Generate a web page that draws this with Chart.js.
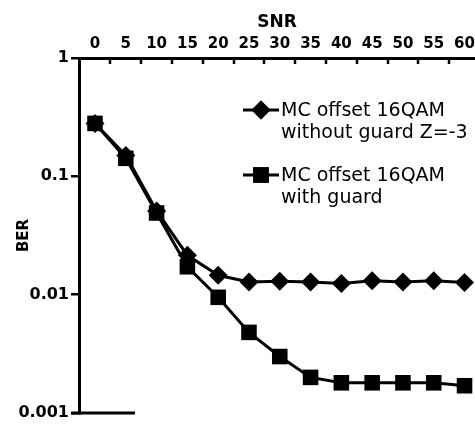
<!DOCTYPE html>
<html>
<head>
<meta charset="utf-8">
<script src="https://cdn.jsdelivr.net/npm/chart.js@4/dist/chart.umd.min.js"></script>
<style>
  html, body { margin: 0; padding: 0; background: #fff; }
  #wrap { width: 475px; height: 425px; }
</style>
</head>
<body>
<div id="wrap"><canvas id="c" width="475" height="425"></canvas></div>
<script>
// SNR sweep (dB) and measured bit error rates
const snr = [0, 5, 10, 15, 20, 25, 30, 35, 40, 45, 50, 55, 60];
const berNoGuard = [0.28, 0.15, 0.051, 0.0215, 0.0146, 0.0128, 0.013, 0.0128, 0.0124, 0.0131, 0.0128, 0.0131, 0.0127];
const berGuard = [0.28, 0.142, 0.049, 0.0172, 0.0095, 0.0048, 0.003, 0.002, 0.0018, 0.0018, 0.0018, 0.0018, 0.0017];
const xTickValues = [0, 5, 10, 15, 20, 25, 30, 35, 40, 45, 50, 55, 60];
// small marks on the SNR axis sit between the labelled values
const xTickMarks = [2.5, 7.5, 12.5, 17.5, 22.5, 27.5, 32.5, 37.5, 42.5, 47.5, 52.5, 57.5];
const yTickValues = [1, 0.1, 0.01, 0.001];
const legendLines = [
  ['MC offset 16QAM', 'without guard Z=-3'],
  ['MC offset 16QAM', 'with guard']
];

const FAMILY = '"DejaVu Sans", Verdana, sans-serif';

// Tick marks on the top axis hang down into the plot
const innerTicks = {
  id: 'innerTicks',
  afterDraw(chart) {
    const { ctx, chartArea } = chart;
    const xs = chart.scales.x;
    ctx.save();
    ctx.strokeStyle = '#000';
    ctx.lineWidth = 2.5;
    xTickMarks.forEach(v => {
      const px = Math.round(xs.getPixelForValue(v));
      ctx.beginPath();
      ctx.moveTo(px, chartArea.top);
      ctx.lineTo(px, chartArea.top + 6);
      ctx.stroke();
    });
    // short stub along the bottom of the value axis
    ctx.lineWidth = 3;
    ctx.beginPath();
    ctx.moveTo(chartArea.left - 8, chartArea.bottom);
    ctx.lineTo(xs.getPixelForValue(6.5), chartArea.bottom);
    ctx.stroke();
    ctx.restore();
  }
};

// Legend drawn inside the plot, two lines of text per series
const insetLegend = {
  id: 'insetLegend',
  afterDraw(chart) {
    const { ctx } = chart;
    const items = [
      { y: 110, ds: chart.data.datasets[0] },
      { y: 175, ds: chart.data.datasets[1] }
    ];
    ctx.save();
    items.forEach((it, i) => {
      const ds = it.ds;
      ctx.strokeStyle = '#000';
      ctx.lineWidth = 3;
      ctx.beginPath();
      ctx.moveTo(243, it.y);
      ctx.lineTo(279, it.y);
      ctx.stroke();
      ctx.fillStyle = '#000';
      Chart.helpers.drawPoint(ctx, {
        pointStyle: ds.pointStyle,
        radius: ds.pointRadius,
        rotation: 0,
        borderWidth: 0
      }, 261, it.y);
      ctx.fill();
      ctx.font = '19px ' + FAMILY;
      ctx.textBaseline = 'middle';
      ctx.textAlign = 'left';
      legendLines[i].forEach((t, k) => ctx.fillText(t, 281, it.y + 1 + k * 22));
    });
    ctx.restore();
  }
};

new Chart(document.getElementById('c'), {
  type: 'line',
  data: {
    datasets: [
      {
        label: legendLines[0].join(' '),
        data: snr.map((s, i) => ({ x: s, y: berNoGuard[i] })),
        borderColor: '#000',
        backgroundColor: '#000',
        borderWidth: 3,
        pointStyle: 'rectRot',
        pointRadius: 9.5,
        pointBorderWidth: 0,
        tension: 0
      },
      {
        label: legendLines[1].join(' '),
        data: snr.map((s, i) => ({ x: s, y: berGuard[i] })),
        borderColor: '#000',
        backgroundColor: '#000',
        borderWidth: 3,
        pointStyle: 'rect',
        pointRadius: 11,
        pointBorderWidth: 0,
        tension: 0
      }
    ]
  },
  options: {
    responsive: false,
    animation: false,
    devicePixelRatio: 1,
    layout: { autoPadding: false, padding: { left: 0, right: 0, top: 0, bottom: 12 } },
    plugins: {
      legend: { display: false },
      tooltip: { enabled: false }
    },
    scales: {
      x: {
        type: 'linear',
        position: 'top',
        min: -2.6,
        max: 61.7,
        afterBuildTicks(axis) {
          axis.ticks = xTickValues.map(v => ({ value: v }));
        },
        afterFit(axis) {
          axis.height = 58;
          axis.paddingLeft = 0;
          axis.paddingRight = 0;
        },
        grid: { display: false, drawTicks: false },
        border: { display: true, color: '#000', width: 3 },
        ticks: {
          color: '#000',
          font: { family: FAMILY, size: 15, weight: 'bold' },
          padding: 5,
          maxRotation: 0,
          autoSkip: false,
          callback: v => String(v)
        },
        title: {
          display: true,
          text: 'SNR',
          color: '#000',
          font: { family: FAMILY, size: 17, weight: 'bold' },
          padding: { top: 12, bottom: 0 }
        }
      },
      y: {
        type: 'logarithmic',
        min: 0.001,
        max: 1,
        afterBuildTicks(axis) {
          axis.ticks = yTickValues.map(v => ({ value: v }));
        },
        afterFit(axis) {
          axis.width = 79;
        },
        grid: { display: true, drawOnChartArea: false, drawTicks: true, tickLength: 8, color: '#000', lineWidth: 2.5 },
        border: { display: true, color: '#000', width: 3 },
        ticks: {
          color: '#000',
          font: { family: FAMILY, size: 16, weight: 'bold' },
          padding: 2,
          autoSkip: false,
          callback: v => String(v)
        },
        title: {
          display: true,
          text: 'BER',
          color: '#000',
          font: { family: FAMILY, size: 15, weight: 'bold' },
          padding: { top: 15, bottom: 0 }
        }
      }
    }
  },
  plugins: [innerTicks, insetLegend]
});
</script>
</body>
</html>
